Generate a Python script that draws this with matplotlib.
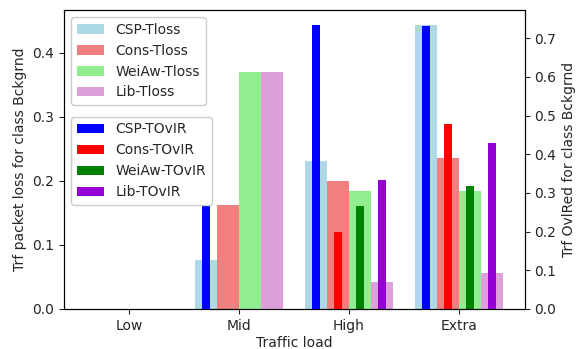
import matplotlib
import numpy as np

matplotlib.use("Agg")
import matplotlib.pyplot as plt


LOADS = ["Low", "Mid", "High", "Extra"]
POLICIES = ["CSP", "Cons", "WeiAw", "Lib"]

# packet loss (left axis)
TLOSS_CSP = [0.0, 0.077, 0.231, 0.444]
TLOSS_CONS = [0.0, 0.163, 0.200, 0.236]
TLOSS_WEIAW = [0.0, 0.371, 0.184, 0.184]
TLOSS_LIB = [0.0, 0.371, 0.042, 0.056]

# overload ratio (right axis)
TOVLR_CSP = [0.0, 0.275, 0.734, 0.731]
TOVLR_CONS = [0.0, 0.0, 0.199, 0.478]
TOVLR_WEIAW = [0.0, 0.0, 0.266, 0.318]
TOVLR_LIB = [0.0, 0.0, 0.333, 0.429]

TLOSS_COLORS = ["lightblue", "lightcoral", "lightgreen", "plum"]
TOVLR_COLORS = ["blue", "red", "green", "darkviolet"]


def main():
    plt.rcParams["text.color"] = "0.15"
    plt.rcParams["axes.labelcolor"] = "0.15"
    plt.rcParams["xtick.color"] = "0.15"
    plt.rcParams["ytick.color"] = "0.15"

    fig = plt.figure(figsize=(5.78, 3.49), dpi=100)
    ax = fig.add_axes([0.111, 0.115, 0.797, 0.856])
    ax2 = ax.twinx()

    x = np.arange(len(LOADS))
    offsets = [-0.3, -0.1, 0.1, 0.3]
    tloss = [TLOSS_CSP, TLOSS_CONS, TLOSS_WEIAW, TLOSS_LIB]
    tovlr = [TOVLR_CSP, TOVLR_CONS, TOVLR_WEIAW, TOVLR_LIB]

    h1 = []
    for name, vals, off, col in zip(POLICIES, tloss, offsets, TLOSS_COLORS):
        h1.append(ax.bar(x + off, vals, 0.2, color=col, label=f"{name}-Tloss"))

    h2 = []
    for name, vals, off, col in zip(POLICIES, tovlr, offsets, TOVLR_COLORS):
        h2.append(ax2.bar(x + off, vals, 0.07, color=col, label=f"{name}-TOvIR"))

    ax.set_xticks(x)
    ax.set_xticklabels(LOADS)
    ax.set_xlim(-0.59, 3.6)
    ax.set_ylim(0, 0.467)
    ax2.set_ylim(0, 0.773)
    ax.set_xlabel("Traffic load", labelpad=2.5)
    ax.set_ylabel("Trf packet loss for class Bckgrnd")
    ax2.set_ylabel("Trf OvlRed for class Bckgrnd")

    leg1 = ax2.legend(handles=h1, loc="upper left", framealpha=1)
    ax2.add_artist(leg1)
    ax2.legend(handles=h2, loc="upper left", bbox_to_anchor=(0.0, 0.666),
               framealpha=1)

    fig.savefig("out.png", dpi=100)
    plt.close(fig)


if __name__ == "__main__":
    main()
